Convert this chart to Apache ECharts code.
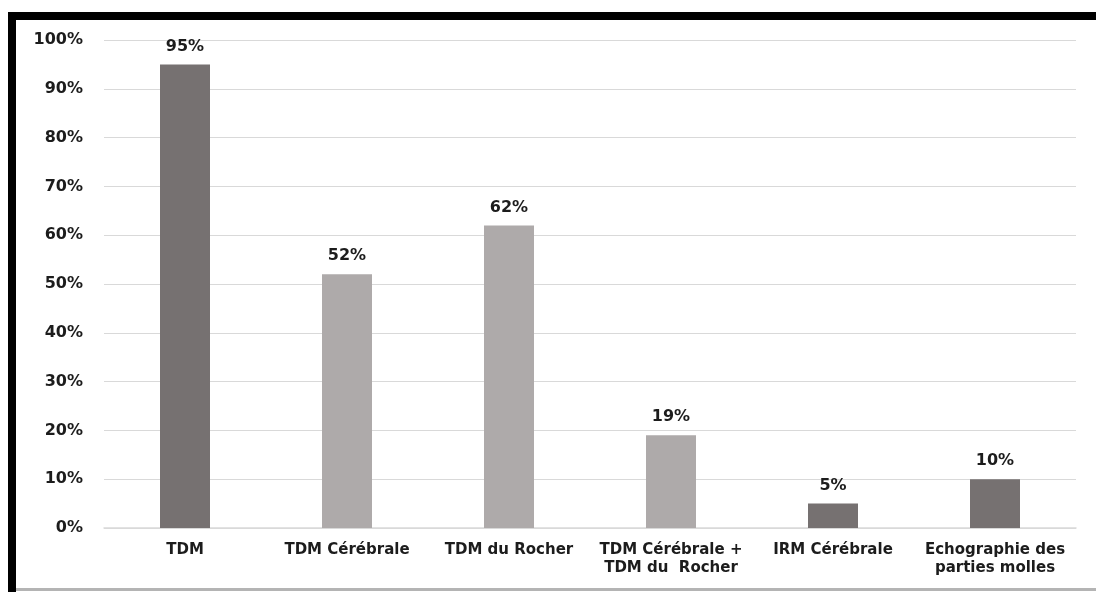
<!DOCTYPE html>
<html>
<head>
<meta charset="utf-8">
<title>Examens d'imagerie réalisés</title>
<script src="https://cdn.jsdelivr.net/npm/echarts@6/dist/echarts.min.js"></script>
<style>
  html, body { margin: 0; padding: 0; background: #ffffff; }
  #chart { width: 1096px; height: 592px; }
</style>
</head>
<body>
<div id="chart"></div>
<script>
// Imaging examinations: share of patients (%)
const categories = [
  'TDM',
  'TDM Cérébrale',
  'TDM du Rocher',
  'TDM Cérébrale +\nTDM du  Rocher',
  'IRM Cérébrale',
  'Echographie des\nparties molles'
];
const percentages = [95, 52, 62, 19, 5, 10];

// Two shades of grey used for the bars
const darkGrey = '#767171';
const lightGrey = '#aeaaaa';
const barShades = [darkGrey, lightGrey, lightGrey, lightGrey, darkGrey, darkGrey];

const font = 'DejaVu Sans';
const textColor = '#1c1c1c';

const chart = echarts.init(document.getElementById('chart'), null, { renderer: 'canvas' });

chart.setOption({
  backgroundColor: '#ffffff',
  animation: false,
  grid: { left: 104, right: 20, top: 40, bottom: 64, containLabel: false },
  // Black frame around the plot (top and left bands, thin bottom rule)
  graphic: [
    { type: 'rect', shape: { x: 8, y: 12, width: 1088, height: 8 }, style: { fill: '#000000' }, silent: true },
    { type: 'rect', shape: { x: 8, y: 12, width: 8, height: 580 }, style: { fill: '#000000' }, silent: true },
    { type: 'rect', shape: { x: 16, y: 588, width: 1080, height: 3 }, style: { fill: '#b4b4b4' }, silent: true }
  ],
  xAxis: {
    type: 'category',
    data: categories,
    axisTick: { show: false },
    axisLine: { show: true, lineStyle: { color: '#d9d9d9', width: 1.5 } },
    axisLabel: {
      interval: 0,
      margin: 13,
      fontFamily: font,
      fontWeight: 'bold',
      fontSize: 15,
      lineHeight: 18,
      color: textColor
    }
  },
  yAxis: {
    type: 'value',
    min: 0,
    max: 100,
    interval: 10,
    axisLine: { show: false },
    axisTick: { show: false },
    splitLine: { lineStyle: { color: '#d9d9d9', width: 1.2 } },
    axisLabel: {
      margin: 21,
      formatter: '{value}%',
      fontFamily: font,
      fontWeight: 'bold',
      fontSize: 16,
      color: textColor
    }
  },
  series: [{
    type: 'bar',
    barWidth: 50,
    data: percentages.map((v, i) => ({ value: v, itemStyle: { color: barShades[i] } })),
    label: {
      show: true,
      position: 'top',
      distance: 9,
      formatter: '{c}%',
      fontFamily: font,
      fontWeight: 'bold',
      fontSize: 16,
      lineHeight: 18,
      color: textColor
    }
  }]
});
</script>
</body>
</html>
